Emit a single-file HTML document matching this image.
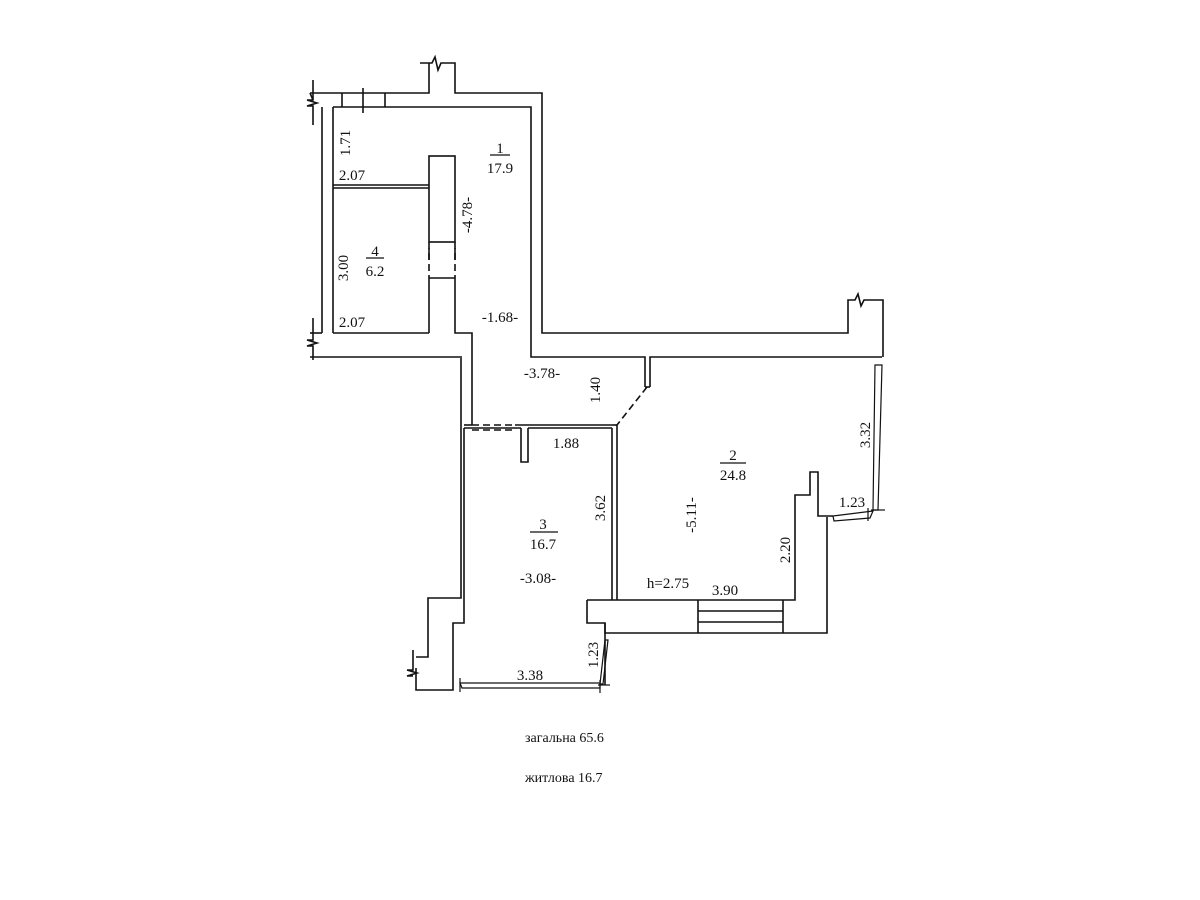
<!DOCTYPE html>
<html><head><meta charset="utf-8"><style>
html,body{margin:0;padding:0;background:#fff;}
svg{display:block;}
text{font-family:"Liberation Serif",serif;font-size:15px;fill:#111;}
</style></head><body>
<svg width="1200" height="900" viewBox="0 0 1200 900" xmlns="http://www.w3.org/2000/svg">
<g fill="none" stroke="#111" stroke-width="1.6">
<!-- top outer wall -->
<polyline points="310,93 429,93 429,63"/>
<polyline points="420,63 432,63 435,57 438,70 441,63 455,63 455,93 542,93 542,333 848,333 848,300 855,300 858,294 861,306 864,300 883,300 883,357"/>
<line x1="342" y1="93" x2="342" y2="107"/>
<line x1="363" y1="88" x2="363" y2="113"/>
<line x1="385" y1="93" x2="385" y2="107"/>
<!-- left break top -->
<polyline points="313,80 313,100 307,100 317,103 307,106 313,106 313,125"/>
<line x1="313" y1="100" x2="310" y2="93"/>
<!-- inner top + right of room1 -->
<polyline points="333,107 531,107 531,357 645,357 645,387"/>
<polyline points="650,387 650,357 882,357"/>
<line x1="645" y1="387" x2="650" y2="387"/>
<!-- left outer -->
<line x1="322" y1="107" x2="322" y2="333"/>
<polyline points="322,333 310,333"/>
<polyline points="313,318 313,340 307,340 317,343 307,346 313,346 313,360"/>
<line x1="310" y1="357" x2="462" y2="357"/>
<!-- room1/4 -->
<line x1="333" y1="107" x2="333" y2="333"/>
<line x1="333" y1="185" x2="429" y2="185"/>
<line x1="333" y1="188" x2="429" y2="188"/>
<line x1="333" y1="333" x2="429" y2="333"/>
<!-- partition -->
<rect x="429" y="156" width="26" height="86"/>
<line x1="429" y1="278" x2="455" y2="278"/>
<line x1="429" y1="278" x2="429" y2="333"/>
<line x1="429" y1="248" x2="429" y2="260" />
<line x1="455" y1="248" x2="455" y2="260"/>
<polyline points="455,278 455,333 472,333 472,425"/>
<!-- room3 -->
<polyline points="461,358 461,598 428,598 428,657 416,657"/>
<polyline points="416,668 416,690 453,690 453,623 464,623 464,428"/>
<polyline points="413,650 413,670 407,670 417,673 407,676 413,676"/>
<line x1="464" y1="425" x2="472" y2="425"/>
<line x1="515" y1="425" x2="613" y2="425"/>
<line x1="464" y1="428" x2="521" y2="428"/>
<line x1="528" y1="428" x2="612" y2="428"/>
<polyline points="521,428 521,462 528,462 528,428"/>
<line x1="612" y1="428" x2="612" y2="600"/>
<line x1="617" y1="425" x2="617" y2="600"/>
<line x1="613" y1="425" x2="617" y2="425"/>
<!-- bottom of room2 and step -->
<polyline points="587,600 795,600 795,495 810,495 810,472 818,472 818,516 833,516"/>
<polyline points="587,600 587,623 605,623 605,633 827,633 827,517"/>
<line x1="605" y1="623" x2="605" y2="685"/>
<line x1="698" y1="600" x2="698" y2="633"/>
<line x1="783" y1="600" x2="783" y2="633"/>
<line x1="698" y1="611" x2="783" y2="611"/>
<line x1="698" y1="622" x2="783" y2="622"/>
<!-- windows -->
<polygon points="875,365 882,365 878,510 873,510" stroke-width="1.2"/>
<line x1="871" y1="510" x2="885" y2="510" stroke-width="1.2"/>
<polygon points="833,516 873,511 870,518 834,521" stroke-width="1.2"/>
<line x1="868" y1="508" x2="868" y2="521" stroke-width="1.2"/>
<polygon points="460,683 600,683 600,688 462,688" stroke-width="1.2"/>
<line x1="460" y1="678" x2="460" y2="692" stroke-width="1.2"/>
<line x1="600" y1="680" x2="600" y2="693" stroke-width="1.2"/>
<polygon points="600,684 605,640 608,640 603,684" stroke-width="1.2"/>
<line x1="598" y1="685" x2="610" y2="685" stroke-width="1.2"/>
<!-- dashed doors -->
<g stroke-dasharray="7,4">
<line x1="472" y1="425" x2="515" y2="425"/>
<line x1="472" y1="430" x2="515" y2="430"/>
<line x1="647" y1="387" x2="617" y2="425"/>
<line x1="429" y1="242" x2="429" y2="278"/>
<line x1="455" y1="242" x2="455" y2="278"/>
</g>
<line x1="490" y1="155" x2="510" y2="155" stroke-width="1.2"/>
<line x1="366" y1="258" x2="384" y2="258" stroke-width="1.2"/>
<line x1="720" y1="463" x2="746" y2="463" stroke-width="1.2"/>
<line x1="530" y1="532" x2="558" y2="532" stroke-width="1.2"/>
</g>
<g text-anchor="middle">
<text x="500" y="153">1</text><text x="500" y="173">17.9</text>
<text x="375" y="256">4</text><text x="375" y="276">6.2</text>
<text x="733" y="460">2</text><text x="733" y="480">24.8</text>
<text x="543" y="529">3</text><text x="543" y="549">16.7</text>
<text x="352" y="180">2.07</text>
<text x="352" y="327">2.07</text>
<text x="500" y="322">-1.68-</text>
<text x="542" y="378">-3.78-</text>
<text x="566" y="448">1.88</text>
<text x="852" y="507">1.23</text>
<text x="538" y="583">-3.08-</text>
<text x="668" y="588">h=2.75</text>
<text x="725" y="595">3.90</text>
<text x="530" y="680">3.38</text>
<text transform="translate(350,143) rotate(-90)">1.71</text>
<text transform="translate(472,215) rotate(-90)">-4.78-</text>
<text transform="translate(348,268) rotate(-90)">3.00</text>
<text transform="translate(600,390) rotate(-90)">1.40</text>
<text transform="translate(870,435) rotate(-90)">3.32</text>
<text transform="translate(605,508) rotate(-90)">3.62</text>
<text transform="translate(696,515) rotate(-90)">-5.11-</text>
<text transform="translate(790,550) rotate(-90)">2.20</text>
<text transform="translate(598,655) rotate(-90)">1.23</text>
</g>
<text x="525" y="742" style="font-size:14px">загальна 65.6</text>
<text x="525" y="782" style="font-size:14px">житлова 16.7</text>
</svg>
</body></html>
